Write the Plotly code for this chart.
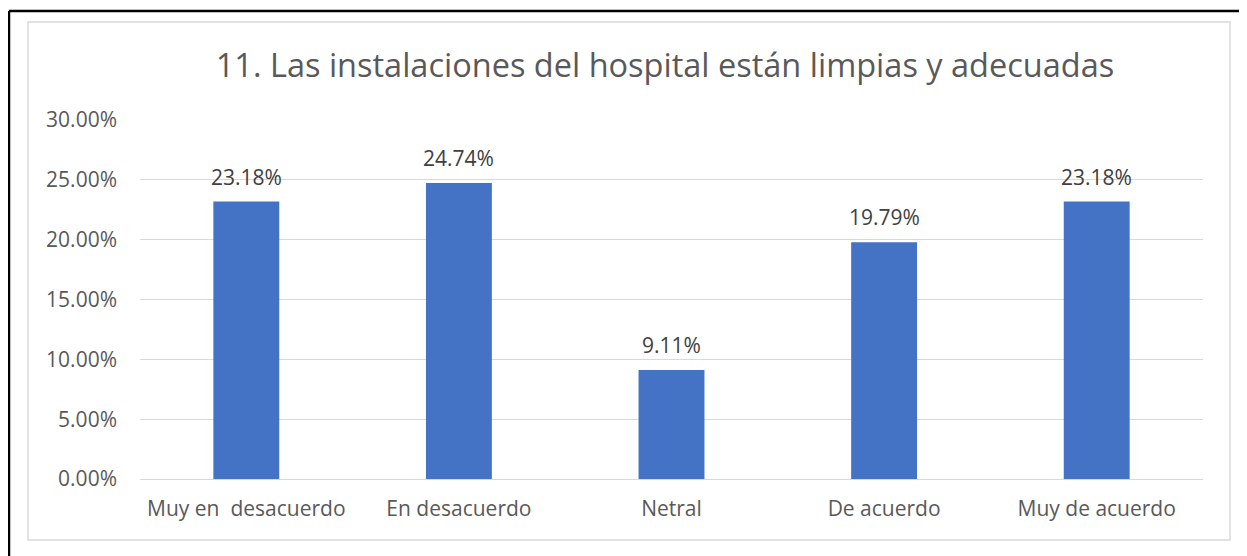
import plotly.graph_objects as go

categorias = ["Muy en  desacuerdo", "En desacuerdo", "Netral", "De acuerdo", "Muy de acuerdo"]
porcentajes = [0.2318, 0.2474, 0.0911, 0.1979, 0.2318]
titulo = "11. Las instalaciones del hospital están limpias y adecuadas"

# the page body has an 8px margin, so work in figure pixels = page pixels - 8
OFF = 8
W, H = 1247 - OFF, 556 - OFF
L, R, T, B = 140 - OFF, 1203 - OFF, 120 - OFF, 479 - OFF


def px_x(x):
    return (x - OFF - L) / (R - L)


def px_y(y):
    return (B - (y - OFF)) / (B - T)


fuente = "Open Sans, sans-serif"
gris = "#595959"

fig = go.Figure(go.Bar(
    x=categorias, y=porcentajes,
    marker_color="#4472C4", marker_line_width=0,
    hoverinfo="skip",
))

for c, v in zip(categorias, porcentajes):
    fig.add_annotation(x=c, y=v, text=f"{v*100:.2f}%", showarrow=False,
                       yanchor="bottom", yshift=9,
                       font=dict(size=21, color="#404040", family=fuente))

fig.update_layout(
    width=W, height=H,
    margin=dict(l=L, r=W - R, t=T, b=H - B),
    paper_bgcolor="white", plot_bgcolor="white",
    bargap=0.69,
    showlegend=False,
    font=dict(family=fuente, color=gris),
    title=dict(text=titulo, x=(665 - OFF) / W, xanchor="center",
               y=1 - (66 - OFF) / H, yanchor="middle",
               font=dict(size=32.5, color=gris, family=fuente)),
)
fig.update_yaxes(range=[0, 0.30], dtick=0.05, tickformat=".2%",
                 showgrid=True, gridcolor="#D9D9D9", gridwidth=1.3,
                 zeroline=False, showline=False,
                 ticklabelstandoff=22, tickfont=dict(size=21, color=gris))
fig.update_xaxes(showline=True, linecolor="#D9D9D9", linewidth=1.3,
                 ticklabelstandoff=11, tickfont=dict(size=21, color=gris))

# marco del gráfico (gris) y borde negro de la imagen
fig.add_shape(type="rect", xref="paper", yref="paper",
              x0=px_x(28), x1=px_x(1230), y0=px_y(540), y1=px_y(22),
              line=dict(color="#D9D9D9", width=1.5), layer="below")
fig.add_shape(type="line", xref="paper", yref="paper",
              x0=px_x(9), x1=px_x(9), y0=px_y(11), y1=px_y(600),
              line=dict(color="black", width=2.5))
fig.add_shape(type="line", xref="paper", yref="paper",
              x0=px_x(9), x1=px_x(1300), y0=px_y(11), y1=px_y(11),
              line=dict(color="black", width=2.5))

fig.write_html("out.html")
